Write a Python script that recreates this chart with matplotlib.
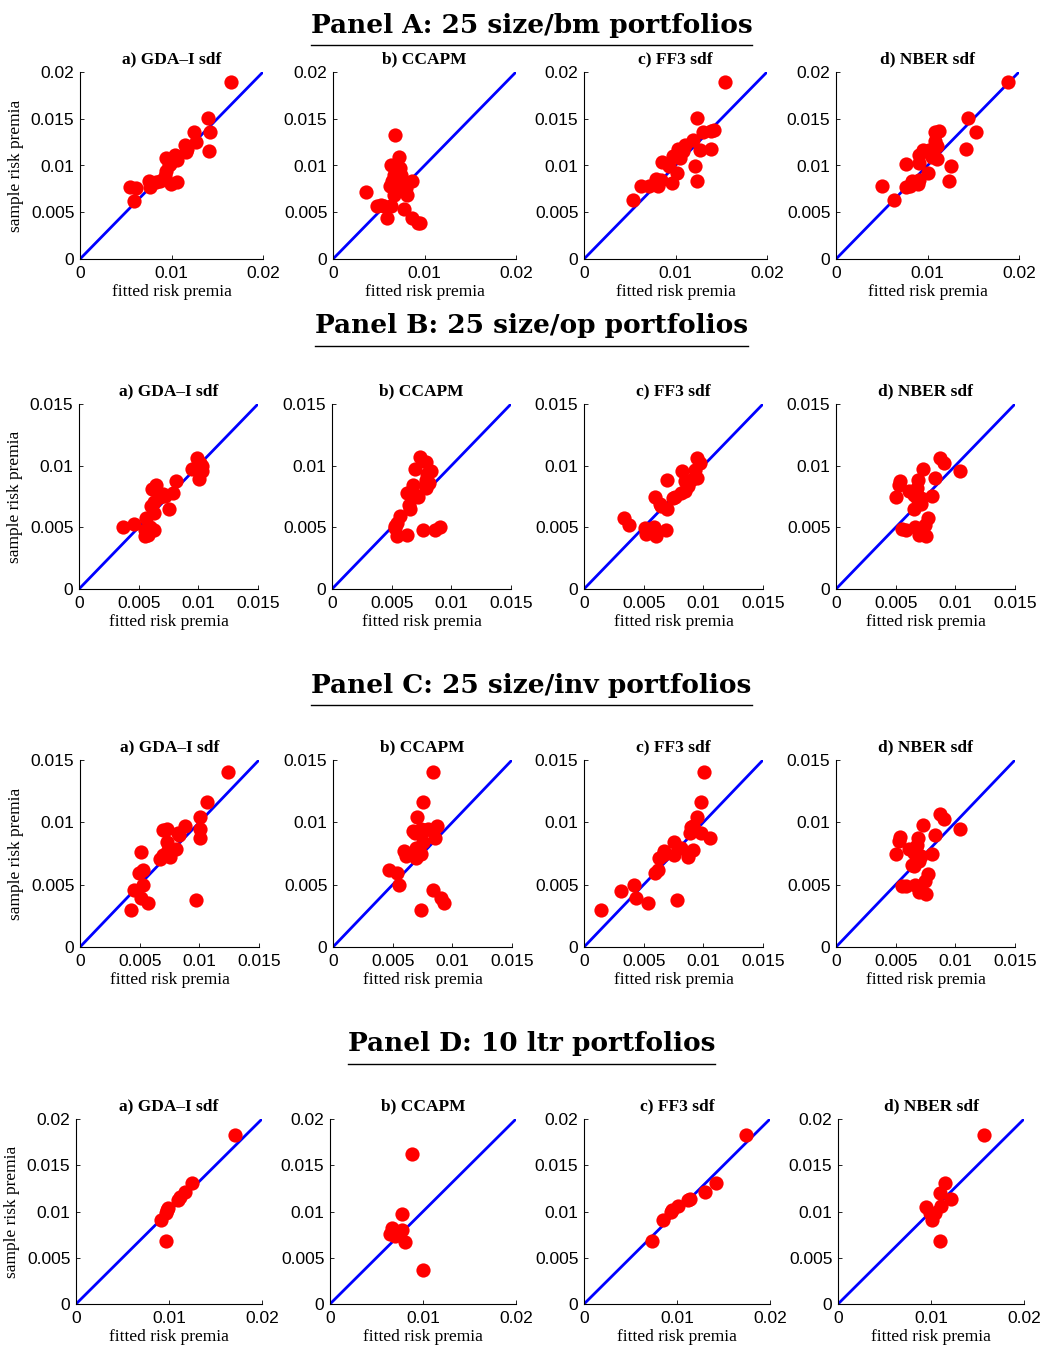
import matplotlib.pyplot as plt
from matplotlib.lines import Line2D
from matplotlib.ticker import FuncFormatter

# figure is 1042 x 1349 px at dpi 100
W, H = 1042, 1349

model_titles = ["a) GDA\u2013I sdf", "b) CCAPM", "c) FF3 sdf", "d) NBER sdf"]
panel_titles = [
    "Panel A: 25 size/bm portfolios",
    "Panel B: 25 size/op portfolios",
    "Panel C: 25 size/inv portfolios",
    "Panel D: 10 ltr portfolios",
]
axis_lims = [0.02, 0.015, 0.015, 0.02]
x_ticks = [[0, 0.01, 0.02], [0, 0.005, 0.01, 0.015], [0, 0.005, 0.01, 0.015], [0, 0.01, 0.02]]
y_ticks = [[0, 0.005, 0.01, 0.015, 0.02], [0, 0.005, 0.01, 0.015],
           [0, 0.005, 0.01, 0.015], [0, 0.005, 0.01, 0.015, 0.02]]

# Panel A: 25 size/bm
a_gda_x = [0.01647, 0.01399, 0.01424, 0.01246, 0.01264, 0.0141, 0.01148, 0.01155, 0.01064, 0.00944,
           0.00987, 0.00944, 0.00933, 0.01035, 0.00991, 0.01057, 0.00871, 0.0075, 0.00768, 0.00543,
           0.00616, 0.00587, 0.01173, 0.00834, 0.0097]
a_gda_y = [0.01892, 0.01504, 0.01353, 0.01353, 0.01252, 0.01158, 0.01216, 0.01144, 0.01061, 0.01083,
           0.01018, 0.00946, 0.00892, 0.01108, 0.00802, 0.00827, 0.00831, 0.00838, 0.00766, 0.00773,
           0.00755, 0.00622, 0.0118, 0.0082, 0.0100]
a_cc_x = [0.00681, 0.00721, 0.00634, 0.00736, 0.00663, 0.00743, 0.00645, 0.00718, 0.00867, 0.00663,
          0.00663, 0.00801, 0.00809, 0.00361, 0.00481, 0.00554, 0.00638, 0.0059, 0.0078, 0.00867,
          0.00925, 0.00947, 0.007, 0.0062, 0.00525]
a_cc_y = [0.01331, 0.01088, 0.01009, 0.00973, 0.00902, 0.00902, 0.0083, 0.00848, 0.00837, 0.00741,
          0.00687, 0.00759, 0.0068, 0.00716, 0.00572, 0.00572, 0.00562, 0.00436, 0.00537, 0.00436,
          0.0039, 0.00383, 0.00884, 0.0078, 0.0058]
a_ff_x = [0.01541, 0.01237, 0.01302, 0.01385, 0.01425, 0.0119, 0.01103, 0.01031, 0.01273, 0.01392,
          0.01049, 0.00976, 0.0085, 0.00933, 0.01208, 0.01013, 0.00958, 0.0124, 0.00788, 0.00839,
          0.00814, 0.00705, 0.00626, 0.00532, 0.01085]
a_ff_y = [0.01896, 0.0151, 0.0136, 0.01367, 0.01378, 0.0127, 0.01224, 0.01177, 0.0117, 0.01181,
          0.0108, 0.01098, 0.01034, 0.00998, 0.00991, 0.00919, 0.00812, 0.00837, 0.00855, 0.00841,
          0.00784, 0.00776, 0.00784, 0.00633, 0.0115]
a_nb_x = [0.01875, 0.01447, 0.01531, 0.01125, 0.01077, 0.01077, 0.01106, 0.0142, 0.00952, 0.01015,
          0.00905, 0.0105, 0.01106, 0.00766, 0.00905, 0.0126, 0.01007, 0.01234, 0.00905, 0.00832,
          0.00894, 0.00813, 0.00766, 0.00502, 0.0063]
a_nb_y = [0.01893, 0.0151, 0.0136, 0.01374, 0.0136, 0.0126, 0.01213, 0.01181, 0.0117, 0.0117,
          0.01116, 0.01091, 0.0107, 0.01013, 0.01027, 0.00991, 0.00919, 0.00837, 0.00848, 0.0083,
          0.00805, 0.00776, 0.00766, 0.00784, 0.00633]

# Panel B: 25 size/op
b_gda_x = [0.00991, 0.01013, 0.00943, 0.01027, 0.01008, 0.00816, 0.00788, 0.00723, 0.00675, 0.00647,
           0.00613, 0.00625, 0.00605, 0.00754, 0.00563, 0.00366, 0.00464, 0.0055, 0.00577, 0.00628,
           0.00552, 0.00591, 0.00704, 0.0063, 0.01027]
b_gda_y = [0.01061, 0.01021, 0.00972, 0.00953, 0.00894, 0.00877, 0.00782, 0.00755, 0.00742, 0.00845,
           0.0081, 0.00709, 0.00669, 0.00647, 0.00574, 0.00501, 0.00528, 0.00479, 0.00439, 0.00479,
           0.0043, 0.00506, 0.00771, 0.00615, 0.00994]
b_cc_x = [0.00739, 0.00787, 0.00829, 0.00696, 0.00787, 0.00815, 0.00787, 0.00682, 0.00632, 0.00682,
          0.00722, 0.00646, 0.00651, 0.0057, 0.00547, 0.00524, 0.00541, 0.00632, 0.00764, 0.00863,
          0.00908, 0.008, 0.00694, 0.0053, 0.0079]
b_cc_y = [0.01067, 0.01026, 0.00953, 0.00972, 0.00885, 0.00858, 0.00818, 0.00845, 0.00777, 0.00755,
          0.00745, 0.00682, 0.00647, 0.00588, 0.00539, 0.00493, 0.00433, 0.00439, 0.00479, 0.00479,
          0.00501, 0.0093, 0.0076, 0.0051, 0.0086]
b_ff_x = [0.00943, 0.00971, 0.00934, 0.00822, 0.00943, 0.00698, 0.00844, 0.00872, 0.0085, 0.00816,
          0.00765, 0.00746, 0.00597, 0.00633, 0.00698, 0.00338, 0.0038, 0.00507, 0.00521, 0.00585,
          0.00605, 0.0069, 0.00563, 0.00647, 0.009]
b_ff_y = [0.01061, 0.01021, 0.00967, 0.00953, 0.00899, 0.0088, 0.00872, 0.00837, 0.00791, 0.00777,
          0.0075, 0.00737, 0.0075, 0.00688, 0.00647, 0.00574, 0.0052, 0.00493, 0.00447, 0.00506,
          0.00433, 0.00479, 0.0046, 0.0067, 0.00885]
b_nb_x = [0.00874, 0.00908, 0.01035, 0.00733, 0.00829, 0.00688, 0.00536, 0.00527, 0.00677, 0.00612,
          0.00654, 0.00682, 0.00505, 0.00804, 0.00716, 0.00654, 0.00767, 0.00744, 0.0066, 0.00555,
          0.00584, 0.00696, 0.00758, 0.0067, 0.0071]
b_nb_y = [0.01061, 0.01021, 0.00953, 0.00972, 0.00899, 0.0088, 0.00877, 0.00845, 0.00818, 0.00791,
          0.00764, 0.00737, 0.00745, 0.00755, 0.00688, 0.00647, 0.00574, 0.0052, 0.00506, 0.00485,
          0.00479, 0.00439, 0.0043, 0.008, 0.0074]

# Panel C: 25 size/inv
c_gda_x = [0.01243, 0.01068, 0.01006, 0.01006, 0.01006, 0.00884, 0.00822, 0.00729, 0.00695, 0.00729,
           0.00737, 0.00805, 0.00754, 0.00692, 0.00667, 0.00509, 0.00497, 0.00531, 0.00531, 0.00455,
           0.00509, 0.00574, 0.00424, 0.00975, 0.0083]
c_gda_y = [0.01404, 0.01165, 0.01042, 0.00948, 0.00871, 0.0097, 0.00916, 0.00948, 0.00938, 0.00841,
           0.00782, 0.00788, 0.00723, 0.00734, 0.00707, 0.00761, 0.00595, 0.00616, 0.00496, 0.00455,
           0.00394, 0.00354, 0.003, 0.0038, 0.009]
c_cc_x = [0.00839, 0.00754, 0.00703, 0.00872, 0.00796, 0.00734, 0.0067, 0.00684, 0.00858, 0.00754,
          0.00698, 0.00718, 0.00599, 0.00613, 0.00698, 0.00706, 0.00473, 0.00538, 0.00549, 0.00839,
          0.00909, 0.00931, 0.00734, 0.0077, 0.00734]
c_cc_y = [0.01404, 0.01163, 0.01042, 0.0097, 0.00948, 0.00948, 0.0093, 0.00916, 0.00876, 0.00841,
          0.00796, 0.00777, 0.00769, 0.00729, 0.00715, 0.00734, 0.00621, 0.00595, 0.00501, 0.00455,
          0.00394, 0.00354, 0.003, 0.0094, 0.0075]
c_ff_x = [0.01004, 0.00981, 0.00945, 0.00911, 0.00892, 0.00981, 0.01057, 0.00757, 0.00813, 0.00911,
          0.00869, 0.00751, 0.00673, 0.00625, 0.00623, 0.00594, 0.00415, 0.00308, 0.00435, 0.00538,
          0.00777, 0.0014, 0.00925, 0.0066, 0.009]
c_ff_y = [0.01404, 0.01163, 0.01042, 0.0097, 0.00916, 0.00916, 0.00876, 0.00841, 0.00796, 0.00782,
          0.00723, 0.00734, 0.00769, 0.0071, 0.00616, 0.00595, 0.00496, 0.00453, 0.00394, 0.00354,
          0.0038, 0.003, 0.00943, 0.0074, 0.0096]
c_nb_x = [0.00874, 0.00908, 0.01035, 0.00733, 0.00829, 0.00688, 0.00536, 0.00527, 0.00677, 0.00612,
          0.00654, 0.00696, 0.00505, 0.00804, 0.00654, 0.00767, 0.00744, 0.0066, 0.00555, 0.00584,
          0.00696, 0.00758, 0.0067, 0.0071, 0.0064]
c_nb_y = [0.01069, 0.01023, 0.00948, 0.00978, 0.00895, 0.00876, 0.00884, 0.00849, 0.00822, 0.00788,
          0.00755, 0.00688, 0.00742, 0.0075, 0.00648, 0.00589, 0.00528, 0.00501, 0.00488, 0.00488,
          0.00439, 0.00429, 0.008, 0.0073, 0.0066]

# Panel D: 10 ltr
d_gda_x = [0.0171, 0.01247, 0.01172, 0.01097, 0.00989, 0.00968, 0.00914, 0.00968, 0.01118, 0.00978]
d_gda_y = [0.01827, 0.01308, 0.01211, 0.01124, 0.01038, 0.00984, 0.00908, 0.00681, 0.01157, 0.01016]
d_cc_x = [0.00882, 0.00774, 0.00667, 0.00645, 0.00699, 0.00774, 0.00806, 0.01, 0.0073, 0.0068]
d_cc_y = [0.01622, 0.00973, 0.00822, 0.00757, 0.00735, 0.008, 0.0067, 0.00368, 0.0078, 0.008]
d_ff_x = [0.01742, 0.01419, 0.01301, 0.01118, 0.01011, 0.00935, 0.00849, 0.00731, 0.0114, 0.00946]
d_ff_y = [0.01827, 0.01308, 0.01211, 0.01124, 0.01059, 0.00995, 0.00908, 0.00681, 0.0114, 0.01016]
d_nb_x = [0.0157, 0.0115, 0.01215, 0.01097, 0.00946, 0.01011, 0.00989, 0.01108, 0.01097, 0.0104]
d_nb_y = [0.01827, 0.01308, 0.01135, 0.012, 0.01049, 0.00908, 0.00984, 0.01059, 0.00681, 0.0098]

panels = [
    [(a_gda_x, a_gda_y), (a_cc_x, a_cc_y), (a_ff_x, a_ff_y), (a_nb_x, a_nb_y)],
    [(b_gda_x, b_gda_y), (b_cc_x, b_cc_y), (b_ff_x, b_ff_y), (b_nb_x, b_nb_y)],
    [(c_gda_x, c_gda_y), (c_cc_x, c_cc_y), (c_ff_x, c_ff_y), (c_nb_x, c_nb_y)],
    [(d_gda_x, d_gda_y), (d_cc_x, d_cc_y), (d_ff_x, d_ff_y), (d_nb_x, d_nb_y)],
]

# layout in pixels: (top, bottom) of each row and left/width of each axes
row_tb = [(72, 259), (404, 589), (760, 947), (1119, 1304)]
row_lefts = [[80, 333, 584, 836], [79, 332, 584, 836], [80, 333, 584, 836], [76, 330, 584, 838]]
row_width = [183, 179, 179, 186]
title_y = [25, 326, 685, 1044]

fmt = FuncFormatter(lambda v, pos: "0" if v == 0 else f"{v:g}")

fig = plt.figure(figsize=(W / 100, H / 100), dpi=100)

for r in range(4):
    top, bot = row_tb[r]
    lim = axis_lims[r]
    for c in range(4):
        left = row_lefts[r][c]
        ax = fig.add_axes([left / W, (H - bot) / H, row_width[r] / W, (bot - top) / H])
        xs, ys = panels[r][c]
        ax.plot([0, lim], [0, lim], color="#0000ff", lw=2.0)
        ax.scatter(xs, ys, s=105, color="#ff0000", zorder=3, clip_on=False, linewidths=0)
        ax.set_xlim(0, lim)
        ax.set_ylim(0, lim)
        ax.set_xticks(x_ticks[r])
        ax.set_yticks(y_ticks[r])
        ax.xaxis.set_major_formatter(fmt)
        ax.yaxis.set_major_formatter(fmt)
        ax.spines["top"].set_visible(False)
        ax.spines["right"].set_visible(False)
        ax.spines["left"].set_linewidth(0.8)
        ax.spines["bottom"].set_linewidth(0.8)
        ax.tick_params(direction="in", length=3, width=0.6, labelsize=12.5)
        ax.tick_params(axis="x", pad=5)
        ax.tick_params(axis="y", pad=4)
        for lab in ax.get_xticklabels() + ax.get_yticklabels():
            lab.set_fontfamily("Liberation Sans")
        ax.set_title(model_titles[c], fontfamily="Liberation Serif", fontweight="bold",
                     fontsize=12.5, pad=6)
        ax.set_xlabel("fitted risk premia", fontfamily="Liberation Serif", fontsize=12.5, labelpad=2)
        if c == 0:
            ax.set_ylabel("sample risk premia", fontfamily="Liberation Serif", fontsize=12.5, labelpad=5)

# panel headings with an underline
fig.canvas.draw()
renderer = fig.canvas.get_renderer()
for r in range(4):
    t = fig.text(0.51, 1 - title_y[r] / H, panel_titles[r], ha="center", va="center",
                 fontfamily="DejaVu Serif", fontweight="bold", fontsize=19)
    bb = t.get_window_extent(renderer=renderer)
    y_line = 1 - (title_y[r] + 20) / H
    fig.add_artist(Line2D([bb.x0 / W, bb.x1 / W], [y_line, y_line], color="black", lw=1.0))

fig.savefig("out.png", dpi=100)
